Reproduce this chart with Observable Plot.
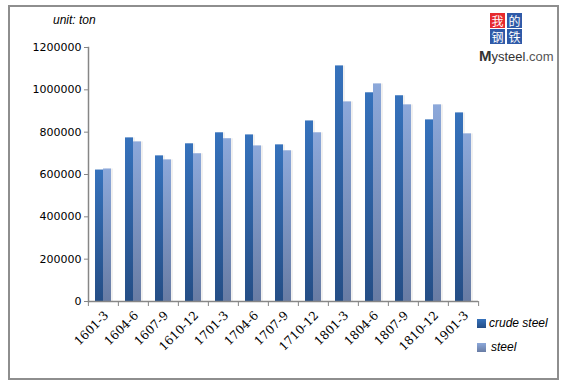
<!DOCTYPE html>
<html><head><meta charset="utf-8">
<script src="https://cdn.jsdelivr.net/npm/d3@7"></script>
<script src="https://cdn.jsdelivr.net/npm/@observablehq/plot@0.6"></script>
<style>
body{margin:0;background:#fff;}
#wrap{position:relative;width:565px;height:390px;overflow:hidden;}
#border{position:absolute;left:8px;top:5px;width:547px;height:371px;border:2px solid #8e8e8e;}
#unit{position:absolute;left:53px;top:13px;font:italic 12px Arial,"Liberation Sans",sans-serif;color:#000;}
#logo{position:absolute;left:479px;top:13px;width:76px;font-family:"Noto Sans CJK SC",sans-serif;}
#logo .g{position:absolute;width:15px;height:15px;color:#fff;font-size:12px;line-height:15px;text-align:center;overflow:hidden;}
#logo .t{position:absolute;left:0;top:34px;font:13px Arial,"Liberation Sans",sans-serif;color:#333;white-space:nowrap;}
#legend{position:absolute;left:477px;top:311px;font:italic 12px Arial,"Liberation Sans",sans-serif;}
#legend div{height:24px;display:flex;align-items:center;}
#legend span.sw{display:inline-block;width:9px;height:9px;margin-right:3px;}
svg{position:absolute;left:0;top:0;}
</style></head>
<body><div id="wrap"><div id="border"></div><div id="chart"></div>
<div id="unit">unit: ton</div>
<div id="logo">
<div class="g" style="left:11px;top:0;background:#e62a2e">我</div>
<div class="g" style="left:28px;top:0;background:#2f5aa8">的</div>
<div class="g" style="left:11px;top:16px;background:#2f5aa8">钢</div>
<div class="g" style="left:28px;top:16px;background:#2f5aa8">铁</div>
<div class="t"><b style="font-size:15px">M</b>ysteel<span style="color:#555">.com</span></div>
</div>
<div id="legend"></div>
</div>
<script>
const categories = ["1601-3","1604-6","1607-9","1610-12","1701-3","1704-6","1707-9","1710-12","1801-3","1804-6","1807-9","1810-12","1901-3"];
const crudeSteel = [621000,773000,688000,745000,797000,787000,740000,853000,1113000,986000,972000,858000,891000];
const steel = [626000,754000,669000,698000,769000,735000,712000,797000,943000,1028000,929000,929000,792000];
const seriesNames = ["crude steel","steel"];
const yTicks = [0,200000,400000,600000,800000,1000000,1200000];

const data = [];
categories.forEach((c,i)=>{
  data.push({cat:c, series:seriesNames[0], value:crudeSteel[i]});
  data.push({cat:c, series:seriesNames[1], value:steel[i]});
});
const fills = {"crude steel":"url(#gCrude)","steel":"url(#gSteel)"};

const W=565,H=390,mL=86,mR=86,mT=47,mB=89;
const bw=(W-mL-mR)/categories.length;
const axisColor="#868686";

const plot = Plot.plot({
  width:W,height:H,marginLeft:mL,marginRight:mR,marginTop:mT,marginBottom:mB,
  style:{background:"transparent",overflow:"visible"},
  fx:{domain:categories,padding:0,label:null,axis:null},
  x:{domain:seriesNames,paddingInner:0,paddingOuter:0.68,axis:null},
  y:{domain:[0,1200000],label:null},
  marks:[
    Plot.barY(data,{fx:"cat",x:"series",y:"value",fill:"#000",fillOpacity:0.06,dx:2}),
    Plot.barY(data,{fx:"cat",x:"series",y:"value",fill:d=>fills[d.series]}),
    Plot.ruleY([0],{stroke:axisColor,strokeWidth:1.5}),
    Plot.axisY({ticks:yTicks,tickFormat:d=>String(d),tickSize:4,stroke:axisColor,fontSize:11,fill:"#000",tickPadding:3,label:null,fontFamily:"DejaVu Sans"}),
    Plot.frame({anchor:"left",stroke:axisColor,strokeWidth:1.5,facet:"super"}),
    Plot.axisFx({anchor:"bottom",tickRotate:-45,tickSize:0,tickPadding:12,dx:3,fontSize:12,fontFamily:"DejaVu Serif",fill:"#000",label:null}),
    Plot.axisFx({anchor:"bottom",text:null,tickSize:5,stroke:axisColor,dx:-bw/2,label:null}),
    Plot.axisFx({anchor:"bottom",ticks:[categories[categories.length-1]],text:null,tickSize:5,stroke:axisColor,dx:bw/2,label:null})
  ]
});
const ns="http://www.w3.org/2000/svg";
const defs=document.createElementNS(ns,"defs");
defs.innerHTML=`
<linearGradient id="gCrude" x1="0" y1="0" x2="0" y2="1"><stop offset="0" stop-color="#3672bc"/><stop offset="1" stop-color="#254e86"/></linearGradient>
<linearGradient id="gSteel" x1="0" y1="0" x2="0" y2="1"><stop offset="0" stop-color="#8ca8da"/><stop offset="1" stop-color="#687ca4"/></linearGradient>`;
plot.insertBefore(defs,plot.firstChild);
document.getElementById("chart").appendChild(plot);

const leg=document.getElementById("legend");
const legFill={"crude steel":"linear-gradient(#3672bc,#254e86)","steel":"linear-gradient(#8ca8da,#687ca4)"};
seriesNames.forEach((s,i)=>{
  const d=document.createElement("div");
  d.innerHTML=`<span class="sw" style="background:${legFill[s]}"></span><span style="margin-left:${i?2:0}px">${s}</span>`;
  leg.appendChild(d);
});
</script></body></html>
